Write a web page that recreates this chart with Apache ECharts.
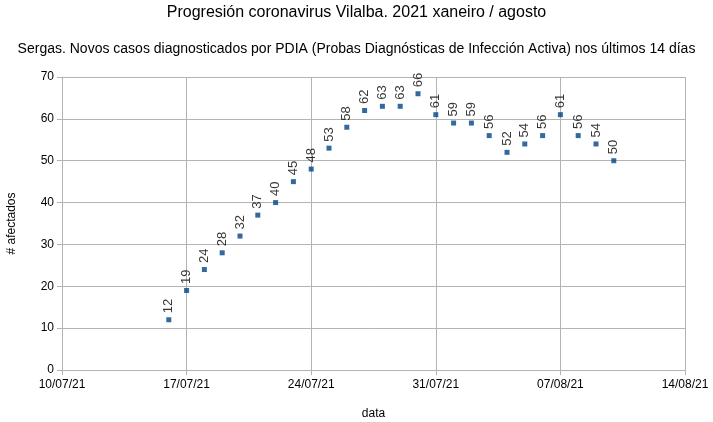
<!DOCTYPE html>
<html><head><meta charset="utf-8">
<script src="https://cdn.jsdelivr.net/npm/echarts@6/dist/echarts.min.js"></script>
<style>html,body{margin:0;padding:0;background:#fff}#c{width:713px;height:422px}</style>
</head><body><div id="c"></div>
<script>
var dates = ['2021-07-16','2021-07-17','2021-07-18','2021-07-19','2021-07-20','2021-07-21','2021-07-22','2021-07-23','2021-07-24','2021-07-25','2021-07-26','2021-07-27','2021-07-28','2021-07-29','2021-07-30','2021-07-31','2021-08-01','2021-08-02','2021-08-03','2021-08-04','2021-08-05','2021-08-06','2021-08-07','2021-08-08','2021-08-09','2021-08-10'];
var values = [12,19,24,28,32,37,40,45,48,53,58,62,63,63,66,61,59,59,56,52,54,56,61,56,54,50];
var tickLabels = ['10/07/21','17/07/21','24/07/21','31/07/21','07/08/21','14/08/21'];
var startDate = '2021-07-10';

var DAY = 86400000;
var t0 = Date.parse(startDate + 'T00:00:00Z');
var data = dates.map(function(d,i){ return [Math.round((Date.parse(d+'T00:00:00Z')-t0)/DAY), values[i]]; });
var font = 'Liberation Sans';
var chart = echarts.init(document.getElementById('c'));
chart.setOption({
  animation:false,
  textStyle:{fontFamily:font},
  title:[
    {text:'Progresión coronavirus Vilalba. 2021 xaneiro / agosto', left:'center', top:0, textStyle:{fontFamily:font,fontSize:16,fontWeight:'normal',color:'#000'}},
    {text:'Sergas. Novos casos diagnosticados por PDIA (Probas Diagnósticas de Infección Activa) nos últimos 14 días', left:'center', top:37, textStyle:{fontFamily:font,fontSize:14,fontWeight:'normal',color:'#000'}}
  ],
  grid:{left:62,right:28,top:77,bottom:52,containLabel:false,outerBoundsMode:'none'},
  xAxis:{
    type:'value', min:0, max:35, interval:7,
    name:'data', nameLocation:'middle', nameGap:38,
    nameTextStyle:{fontFamily:font,fontSize:12,color:'#000'},
    axisLine:{lineStyle:{color:'#b3b3b3'}},
    axisTick:{show:true,length:5,lineStyle:{color:'#b3b3b3'}},
    axisLabel:{fontFamily:font,fontSize:12,color:'#000',margin:9,formatter:function(v){return tickLabels[Math.round(v/7)]||'';}},
    splitLine:{show:true,lineStyle:{color:'#b3b3b3'}}
  },
  yAxis:{
    type:'value', min:0, max:70, interval:10,
    name:'# afectados', nameLocation:'middle', nameGap:44, nameRotate:90,
    nameTextStyle:{fontFamily:font,fontSize:12,color:'#000'},
    axisLine:{show:true,lineStyle:{color:'#b3b3b3'}},
    axisTick:{show:true,length:5,lineStyle:{color:'#b3b3b3'}},
    axisLabel:{fontFamily:font,fontSize:12,color:'#000',margin:8},
    splitLine:{show:true,lineStyle:{color:'#b3b3b3'}}
  },
  series:[{
    type:'scatter', data:data, symbol:'rect', symbolSize:5,
    itemStyle:{color:'#004586'},
    label:{show:true, position:'top', rotate:90, distance:4, align:'left', verticalAlign:'middle',
      fontFamily:font, fontSize:13, color:'#000', textBorderWidth:0, formatter:function(p){return p.value[1];}}
  }]
});
</script></body></html>
